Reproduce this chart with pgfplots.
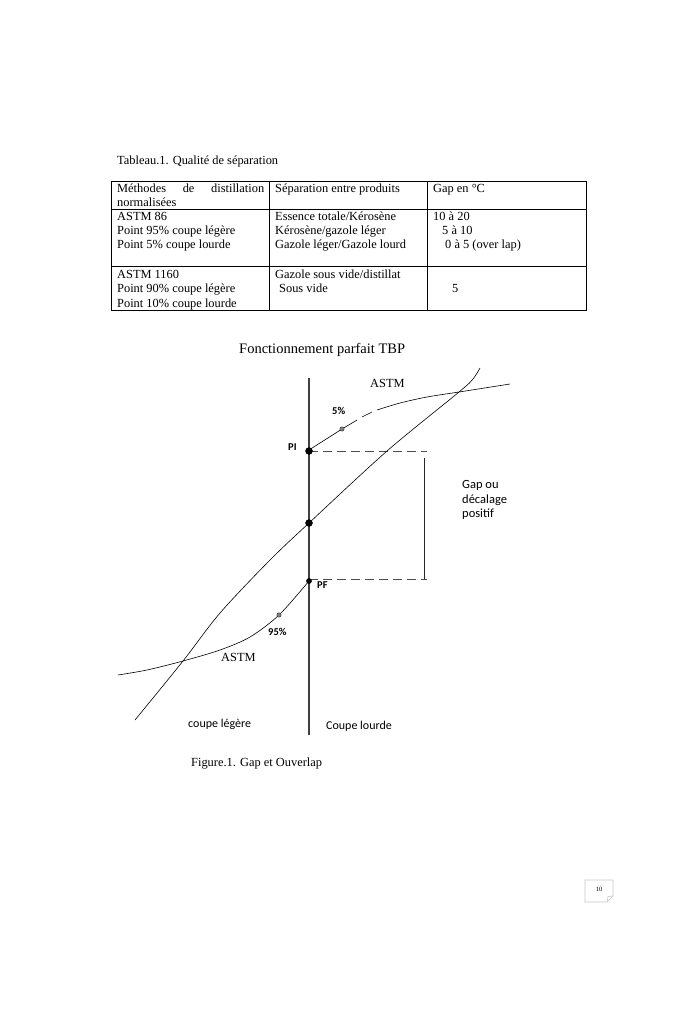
\documentclass[border=0pt]{standalone}
\usepackage{fontspec}
\setmainfont{Liberation Serif}
\newfontfamily\calfont{Carlito}
\usepackage{pgfplots}
\pgfplotsset{compat=1.18}
\begin{document}
\begin{tikzpicture}
\begin{axis}[hide axis, scale only axis, width=700pt, height=1028pt,
  xmin=0, xmax=700, ymin=0, ymax=1028, y dir=reverse, clip=false]
\path (axis cs:0,0) rectangle (axis cs:700,1028);
% ---------- table ----------
\tikzset{tt/.style={anchor=base west, inner sep=0pt, font=\fontsize{12.4}{14}\selectfont}}
\node[tt] at (axis cs:117,164) {Tableau.1. Qualité de séparation};
\draw[line width=0.7pt] (axis cs:111,181) rectangle (axis cs:586,310);
\draw[line width=0.7pt] (axis cs:111,209) -- (axis cs:586,209);
\draw[line width=0.7pt] (axis cs:111,266) -- (axis cs:586,266);
\draw[line width=0.7pt] (axis cs:269,181) -- (axis cs:269,310);
\draw[line width=0.7pt] (axis cs:427,181) -- (axis cs:427,310);
\node[tt] at (axis cs:117,192) {\makebox[147pt][s]{Méthodes\hfill de\hfill distillation}};
\node[tt] at (axis cs:117,206) {normalisées};
\node[tt] at (axis cs:117,220) {ASTM 86};
\node[tt] at (axis cs:117,234) {Point 95\% coupe légère};
\node[tt] at (axis cs:117,248) {Point 5\% coupe lourde};
\node[tt] at (axis cs:117,278) {ASTM 1160};
\node[tt] at (axis cs:117,292) {Point 90\% coupe légère};
\node[tt] at (axis cs:117,307) {Point 10\% coupe lourde};
\node[tt] at (axis cs:275,192) {Séparation entre produits};
\node[tt] at (axis cs:275,220) {Essence totale/Kérosène};
\node[tt] at (axis cs:275,234) {Kérosène/gazole léger};
\node[tt] at (axis cs:275,248) {Gazole léger/Gazole lourd};
\node[tt] at (axis cs:275,278) {Gazole sous vide/distillat};
\node[tt] at (axis cs:279,292) {Sous vide};
\node[tt] at (axis cs:433,192) {Gap en °C};
\node[tt] at (axis cs:433,220) {10 à 20};
\node[tt] at (axis cs:442,234) {5 à 10};
\node[tt] at (axis cs:445,248) {0 à 5 (over lap)};
\node[tt] at (axis cs:452,292) {5};
% ---------- figure ----------
\node[anchor=base west, inner sep=0pt, font=\fontsize{14.5}{16}\selectfont] at (axis cs:239,353) {Fonctionnement parfait TBP};
% vertical axis
\addplot[line width=1.3pt, black!75, no marks] coordinates {(309,378) (309,735)};
% dashed gap lines
\addplot[line width=1pt, black!70, dash pattern=on 9pt off 5pt, no marks] coordinates {(309,451) (427,451)};
\addplot[line width=1pt, black!70, dash pattern=on 9pt off 5pt, no marks] coordinates {(309,579) (427,579)};
\addplot[line width=0.8pt, black!85, no marks] coordinates {(424,458) (424,579)};
% TBP line
\addplot[line width=0.6pt, black, smooth, tension=0.5, no marks] coordinates {
(135,720) (183,661) (220,613) (270,560) (309,523) (387,451) (459,392) (473,379) (480,368)};
% upper ASTM (heavy cut)
\addplot[line width=0.6pt, black, no marks] coordinates {(309,450) (342,429) (357,420)};
\addplot[line width=0.6pt, black, no marks] coordinates {(362,417) (372,412)};
\addplot[line width=0.6pt, black, smooth, tension=0.5, no marks] coordinates {
(377,410) (400,403) (427,397) (459,392) (510,384)};
% lower ASTM (light cut)
\addplot[line width=0.6pt, black, smooth, tension=0.5, no marks] coordinates {
(118,675) (147,670) (183,661) (220,650) (250,637) (279,615) (309,581)};
% points
\addplot[only marks, mark=*, mark size=3.5pt, black] coordinates {(309,451) (309,523)};
\addplot[only marks, mark=*, mark size=2.6pt, black] coordinates {(309,581)};
\addplot[only marks, mark=*, mark size=2.2pt, black!80, fill=gray] coordinates {(342,429) (279,615)};
% labels
\node[anchor=base west, inner sep=0pt, font=\fontsize{12.4}{14}\selectfont] at (axis cs:370,387) {ASTM};
\node[anchor=base west, inner sep=0pt, font=\fontsize{12.4}{14}\selectfont] at (axis cs:221,661) {ASTM};
\node[anchor=base west, inner sep=0pt, font=\calfont\bfseries\fontsize{10.5}{12}\selectfont] at (axis cs:332,414) {5\%};
\node[anchor=base west, inner sep=0pt, font=\calfont\bfseries\fontsize{10.5}{12}\selectfont] at (axis cs:268,635) {95\%};
\node[anchor=base west, inner sep=0pt, font=\calfont\bfseries\fontsize{10.5}{12}\selectfont] at (axis cs:288,450) {PI};
\node[anchor=base west, inner sep=0pt, font=\calfont\bfseries\fontsize{10.5}{12}\selectfont] at (axis cs:317,588) {PF};
\node[anchor=base west, inner sep=0pt, font=\calfont\fontsize{12.5}{14}\selectfont] at (axis cs:462,488) {Gap ou};
\node[anchor=base west, inner sep=0pt, font=\calfont\fontsize{12.5}{14}\selectfont] at (axis cs:462,503) {décalage};
\node[anchor=base west, inner sep=0pt, font=\calfont\fontsize{12.5}{14}\selectfont] at (axis cs:462,517) {positif};
\node[anchor=base west, inner sep=0pt, font=\calfont\fontsize{12}{14}\selectfont] at (axis cs:188,727) {coupe légère};
\node[anchor=base west, inner sep=0pt, font=\calfont\fontsize{12}{14}\selectfont] at (axis cs:326,729) {Coupe lourde};
\node[anchor=base west, inner sep=0pt, font=\fontsize{12.4}{14}\selectfont] at (axis cs:191,766) {Figure.1. Gap et Ouverlap};
% page number box
\draw[gray!45, line width=0.6pt] (axis cs:585,880) -- (axis cs:613,880) -- (axis cs:613,896) -- (axis cs:607,902) -- (axis cs:585,902) -- cycle;
\draw[gray!45, line width=0.6pt] (axis cs:613,896) -- (axis cs:608,896.5) -- (axis cs:607,902);
\node[inner sep=0pt, font=\fontsize{6.5}{8}\selectfont] at (axis cs:599,889) {10};
\end{axis}
\end{tikzpicture}
\end{document}
